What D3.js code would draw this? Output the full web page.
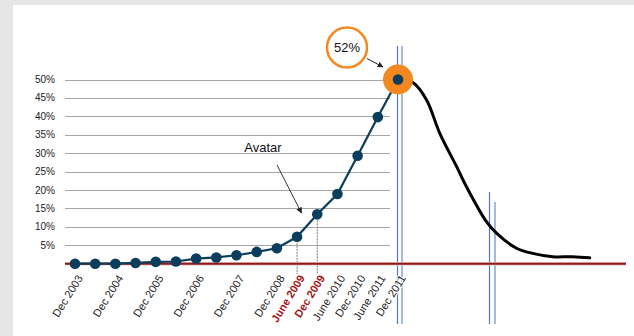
<!doctype html>
<html lang=en>
<head>
<meta charset="utf-8">
<title>Avatar curve</title>
<style>
body { margin:0; background:#e6e6e6; overflow:hidden; }
svg { display:block; }
text { font-family:"Liberation Sans", Arial, sans-serif; }
</style>
</head>
<body>
<div id=content></div>
<script src="https://cdnjs.cloudflare.com/ajax/libs/d3/7.8.5/d3.min.js"></script>
<script>
// share of the market, one point per half year
var periods = ["Dec 2003","June 2004","Dec 2004","June 2005","Dec 2005","June 2006",
  "Dec 2006","June 2007","Dec 2007","June 2008","Dec 2008","June 2009","Dec 2009",
  "June 2010","Dec 2010","June 2011","Dec 2011"]
var share = [0, 0, 0, 0.2, 0.5, 0.6, 1.4, 1.7, 2.3, 3.2, 4.2, 7.3, 13.4, 18.9, 29.3, 39.8, 50]
var shownLabels = ["Dec 2003","Dec 2004","Dec 2005","Dec 2006","Dec 2007","Dec 2008",
  "June 2009","Dec 2009","June 2010","Dec 2010","June 2011","Dec 2011"]
var redLabels = ["June 2009","Dec 2009"]
var yTicks = [5, 10, 15, 20, 25, 30, 35, 40, 45, 50]

// hand drawn decline after the peak (x in period steps, y in %)
var declineX = [16, 16.75, 17.41, 18.07, 18.9, 19.39, 20.38, 20.88, 21.87, 22.67, 23.66, 24.65, 25.5]
var declineY = [50, 49.1, 44.5, 35.4, 26.4, 20.9, 11.4, 8.3, 4.2, 2.8, 1.9, 1.9, 1.6]

var W = 634, H = 336

var svg = d3.select("#content").append("svg")
  .attr("width", W).attr("height", H)

svg.append("rect")
  .attr("x", 13).attr("y", 5)
  .attr("width", W - 13).attr("height", H - 5)
  .attr("fill", "white")

var x = d3.scaleLinear().domain([0, 16]).range([75, 398])
var y = d3.scaleLinear().domain([0, 50]).range([263.7, 79.5])

// gridlines + y labels
var grid = svg.append("g")
yTicks.forEach(function(t){
  grid.append("line")
    .attr("x1", 65).attr("x2", 390)
    .attr("y1", Math.round(y(t)) + 0.5).attr("y2", Math.round(y(t)) + 0.5)
    .attr("stroke", "#a6a6a6").attr("stroke-width", 1)
  grid.append("text")
    .attr("x", 55).attr("y", y(t))
    .attr("dy", "0.35em")
    .attr("text-anchor", "end")
    .attr("font-size", 10)
    .attr("fill", "#222")
    .text(t + "%")
})

// vertical markers
function vline(xp, y1, color, width){
  svg.append("line")
    .attr("x1", xp).attr("x2", xp)
    .attr("y1", y1).attr("y2", 324)
    .attr("stroke", color).attr("stroke-width", width)
}
vline(397.5, 46, "#4f78bd", 1.2)
vline(402, 46, "#a4bbe0", 2)
vline(489.5, 192, "#4f78bd", 1.2)
vline(495, 202, "#a4bbe0", 2)

// dashed drops for the two highlighted periods
redLabels.forEach(function(p){
  var i = periods.indexOf(p)
  svg.append("line")
    .attr("x1", x(i)).attr("x2", x(i))
    .attr("y1", y(share[i])).attr("y2", 274)
    .attr("stroke", "#777").attr("stroke-width", 1)
    .attr("stroke-dasharray", "2,1")
})

// baseline
svg.append("line")
  .attr("x1", 65).attr("x2", 626)
  .attr("y1", y(0)).attr("y2", y(0))
  .attr("stroke", "#e8c4c4").attr("stroke-width", 3.5)
svg.append("line")
  .attr("x1", 65).attr("x2", 626)
  .attr("y1", y(0)).attr("y2", y(0))
  .attr("stroke", "#8e1a1a").attr("stroke-width", 2)

// x labels
periods.forEach(function(p, i){
  if (shownLabels.indexOf(p) < 0) return
  var red = redLabels.indexOf(p) >= 0
  svg.append("text")
    .attr("transform", "translate(" + (x(i) + 5) + ",276) rotate(-58)")
    .attr("text-anchor", "end")
    .attr("dy", "0.35em")
    .attr("font-size", 11)
    .attr("font-weight", red ? "bold" : "normal")
    .attr("fill", red ? "#a31515" : "#222")
    .attr("stroke", "white").attr("stroke-width", 2)
    .attr("paint-order", "stroke")
    .text(p)
})

// decline curve
var decline = declineX.map(function(d, i){ return [d, declineY[i]] })
svg.append("path")
  .attr("d", d3.line().x(d => x(d[0])).y(d => y(d[1])).curve(d3.curveCatmullRom)(decline))
  .attr("fill", "none")
  .attr("stroke", "black")
  .attr("stroke-width", 3)
  .attr("stroke-linecap", "round")

// adoption line
var data = share.map(function(v, i){ return [i, v] })
svg.append("path")
  .attr("d", d3.line().x(d => x(d[0])).y(d => y(d[1]))(data))
  .attr("fill", "none")
  .attr("stroke", "#0b3d5c")
  .attr("stroke-width", 2.2)

// peak highlight
svg.append("circle")
  .attr("cx", x(16)).attr("cy", y(50)).attr("r", 15)
  .attr("fill", "#f5871f")

svg.selectAll(".pt").data(data).enter().append("circle")
  .attr("class", "pt")
  .attr("cx", d => x(d[0])).attr("cy", d => y(d[1]))
  .attr("r", 5.3)
  .attr("fill", "#0b3d5c")

// arrow marker
svg.append("defs").append("marker")
  .attr("id", "arr")
  .attr("viewBox", "0 0 10 10")
  .attr("refX", 9).attr("refY", 5)
  .attr("markerWidth", 6).attr("markerHeight", 6)
  .attr("orient", "auto")
  .append("path").attr("d", "M0,0L10,5L0,10z").attr("fill", "#222")

// 52% callout
svg.append("circle")
  .attr("cx", 347).attr("cy", 47.5).attr("r", 20)
  .attr("fill", "white")
  .attr("stroke", "#f5871f").attr("stroke-width", 2.5)
svg.append("text")
  .attr("x", 347).attr("y", 47.5).attr("dy", "0.35em")
  .attr("text-anchor", "middle")
  .attr("font-size", 13)
  .attr("fill", "#111")
  .text("52%")
svg.append("line")
  .attr("x1", 367).attr("y1", 58.5).attr("x2", 383).attr("y2", 67)
  .attr("stroke", "#222").attr("stroke-width", 1)
  .attr("marker-end", "url(#arr)")

// Avatar note
svg.append("text")
  .attr("x", 263).attr("y", 152)
  .attr("text-anchor", "middle")
  .attr("font-size", 13)
  .attr("fill", "#111")
  .text("Avatar")
svg.append("line")
  .attr("x1", 277).attr("y1", 165).attr("x2", 301.5).attr("y2", 213)
  .attr("stroke", "#333").attr("stroke-width", 1)
  .attr("marker-end", "url(#arr)")
</script>
</body>
</html>
